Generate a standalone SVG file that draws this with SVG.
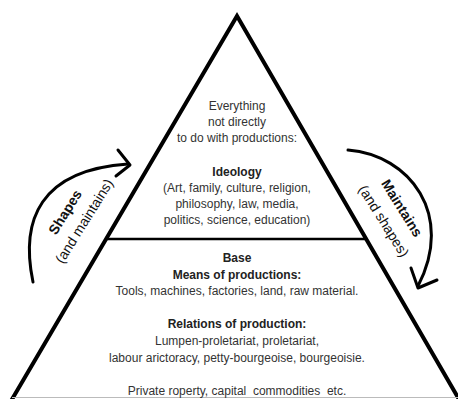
<svg xmlns="http://www.w3.org/2000/svg" width="458" height="399" viewBox="0 0 458 399">
<style>
.t{font-family:"Liberation Sans",Arial,sans-serif;font-size:12px;fill:#333;text-anchor:middle;white-space:pre}
.b{font-weight:bold;fill:#222}
.a{font-family:"Liberation Sans",Arial,sans-serif;font-size:14px;fill:#111;text-anchor:middle}
.edge{fill:none;stroke:#000;stroke-width:4;stroke-linejoin:miter}
.arc{fill:none;stroke:#000;stroke-width:3;stroke-linecap:round;stroke-linejoin:round}
</style>
<rect width="458" height="399" fill="#fff"/>
<g id="pyramid">
<polyline class="edge" points="11,401 237,16 460,401"/>
<line x1="106" y1="239" x2="366" y2="239" stroke="#000" stroke-width="2.5"/>
<line x1="12" y1="397.5" x2="458" y2="397.5" stroke="#bbb" stroke-width="1"/>
</g>
<g id="superstructure">
<text class="t" x="237" y="110">Everything</text>
<text class="t" x="237" y="126">not directly</text>
<text class="t" x="237" y="142">to do with productions:</text>
<text class="t b" x="237" y="176">Ideology</text>
<text class="t" x="237" y="192">(Art, family, culture, religion,</text>
<text class="t" x="237" y="208">philosophy, law, media,</text>
<text class="t" x="237" y="224">politics, science, education)</text>
</g>
<g id="base">
<text class="t b" x="237" y="262">Base</text>
<text class="t b" x="237" y="279">Means of productions:</text>
<text class="t" x="237" y="295">Tools, machines, factories, land, raw material.</text>
<text class="t b" x="237" y="328">Relations of production:</text>
<text class="t" x="237" y="345">Lumpen-proletariat, proletariat,</text>
<text class="t" x="237" y="362">labour arictoracy, petty-bourgeoise, bourgeoisie.</text>
<text class="t" x="237" y="395" xml:space="preserve">Private roperty, capital  commodities  etc.</text>
</g>
<g id="connectors">
<g id="shapes-arrow">
<path class="arc" d="M33,282 C20,220 40,170 128,164"/>
<polyline class="arc" points="118,150 130,165 116,176"/>
</g>
<g id="maintains-arrow">
<path class="arc" d="M348,150 C410,155 455,215 418,286"/>
<polyline class="arc" points="411,268 418,288 437,280"/>
</g>
</g>
<g id="shapes-label">
<text class="a b" transform="translate(65,212) rotate(-58)" y="5">Shapes</text>
<text class="a" transform="translate(84,221) rotate(-58)" y="5">(and maintains)</text>
</g>
<g id="maintains-label">
<text class="a b" transform="translate(402,208) rotate(58)" y="5">Maintains</text>
<text class="a" transform="translate(384,221) rotate(58)" y="5">(and shapes)</text>
</g>
</svg>
